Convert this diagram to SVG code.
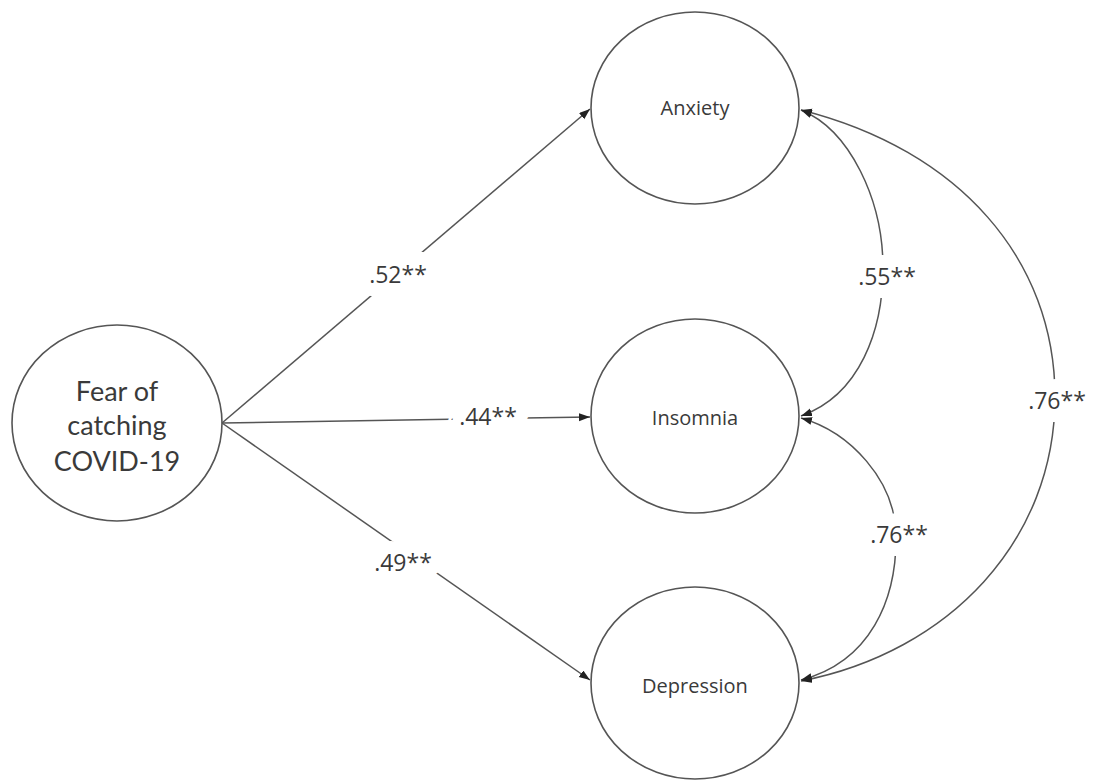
<svg xmlns="http://www.w3.org/2000/svg" width="1094" height="783" viewBox="0 0 1094 783">
<defs>
<marker id="ah" markerUnits="userSpaceOnUse" markerWidth="12" markerHeight="10" refX="11" refY="4" orient="auto-start-reverse">
<path d="M0,0 L11,4 L0,8 Z" fill="#222"/>
</marker>
</defs>
<style>
.node{fill:#fff;stroke:#555;stroke-width:1.6}
.nt{font-family:"Open Sans","Liberation Sans",sans-serif;fill:#3a3a3a;text-anchor:middle;dominant-baseline:central}
.ft{font-family:Lato,"Liberation Sans",sans-serif;fill:#3a3a3a;text-anchor:middle;dominant-baseline:central}
.edge{fill:none;stroke:#555;stroke-width:1.5}
.lbl{font-family:"Open Sans","Liberation Sans",sans-serif;font-size:23px;fill:#3a3a3a;text-anchor:middle;dominant-baseline:central;stroke:#fff;stroke-width:26;paint-order:stroke;stroke-linejoin:round}
</style>
<rect width="1094" height="783" fill="#fff"/>
<g id="fear">
<ellipse class="node" cx="117" cy="423" rx="105" ry="98"/>
<text class="ft" font-size="27" x="117" y="390">Fear of</text>
<text class="ft" font-size="27" x="117" y="424">catching</text>
<text class="ft" font-size="27" x="117" y="460">COVID-19</text>
</g>
<g id="anxiety">
<ellipse class="node" cx="695" cy="108" rx="104" ry="96"/>
<text class="nt" font-size="20" x="695" y="107">Anxiety</text>
</g>
<g id="insomnia">
<ellipse class="node" cx="695" cy="416" rx="104" ry="97"/>
<text class="nt" font-size="20" x="695" y="417">Insomnia</text>
</g>
<g id="depression">
<ellipse class="node" cx="695" cy="683" rx="104" ry="96"/>
<text class="nt" font-size="20" x="695" y="685">Depression</text>
</g>
<g id="connectors">
<path class="edge" d="M222,423 L590,109" marker-end="url(#ah)"/>
<path class="edge" d="M222,423 L590,417" marker-end="url(#ah)"/>
<path class="edge" d="M222,423 L590,680" marker-end="url(#ah)"/>
<path class="edge" d="M801,110 C850,130 883,200 883,268 C883,330 860,395 801,416" marker-start="url(#ah)" marker-end="url(#ah)"/>
<path class="edge" d="M801,418 C850,432 895,480 896,535 C897,600 870,662 801,680" marker-start="url(#ah)" marker-end="url(#ah)"/>
<path class="edge" d="M801,110 C960,150 1055,260 1055,397 C1055,540 950,652 801,681" marker-start="url(#ah)" marker-end="url(#ah)"/>
<text class="lbl" x="398" y="274">.52**</text>
<text class="lbl" x="488" y="416">.44**</text>
<text class="lbl" x="403" y="562">.49**</text>
<text class="lbl" x="887" y="276">.55**</text>
<text class="lbl" x="899" y="534">.76**</text>
<text class="lbl" x="1057" y="400">.76**</text>
</g>
</svg>
